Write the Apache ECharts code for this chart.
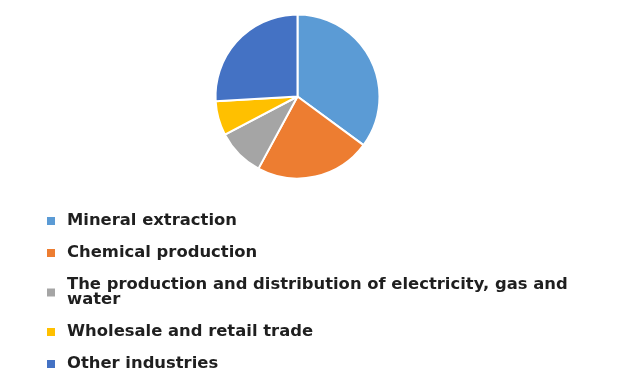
<!DOCTYPE html>
<html>
<head>
<meta charset="utf-8">
<script src="https://cdn.jsdelivr.net/npm/echarts@6/dist/echarts.min.js"></script>
<style>html,body{margin:0;padding:0;background:#fff;}#c{width:620px;height:391px;}</style>
</head>
<body>
<div id="c"></div>
<script>
const categories = [
  "Mineral extraction",
  "Chemical production",
  "The production and distribution of electricity, gas and water",
  "Wholesale and retail trade",
  "Other industries"
];
const values = [35.1, 22.8, 9.4, 6.8, 25.9];
const colors = ["#5B9BD5", "#ED7D31", "#A5A5A5", "#FFC000", "#4472C4"];

const chart = echarts.init(document.getElementById('c'), null, {renderer: 'canvas'});
chart.setOption({
  animation: false,
  color: colors,
  legend: {
    orient: 'vertical',
    left: 47,
    top: 213,
    padding: 0,
    itemGap: 16,
    itemWidth: 8,
    itemHeight: 8,
    icon: 'rect',
    itemStyle: {borderWidth: 0},
    data: categories,
    formatter: function (n) {
      return n === categories[2] ? "The production and distribution of electricity, gas and\nwater" : n;
    },
    textStyle: {
      fontFamily: 'DejaVu Sans',
      fontWeight: 'bold',
      fontSize: 16.4,
      lineHeight: 15,
      color: '#1f1f1f',
      padding: [0, 0, 0, 7]
    }
  },
  series: [{
    type: 'pie',
    center: [297.5, 96.5],
    radius: 82,
    startAngle: 90,
    clockwise: true,
    label: {show: false},
    labelLine: {show: false},
    itemStyle: {borderColor: '#fff', borderWidth: 2},
    emphasis: {disabled: true},
    data: categories.map((c, i) => ({name: c, value: values[i]}))
  }]
});
</script>
</body>
</html>
